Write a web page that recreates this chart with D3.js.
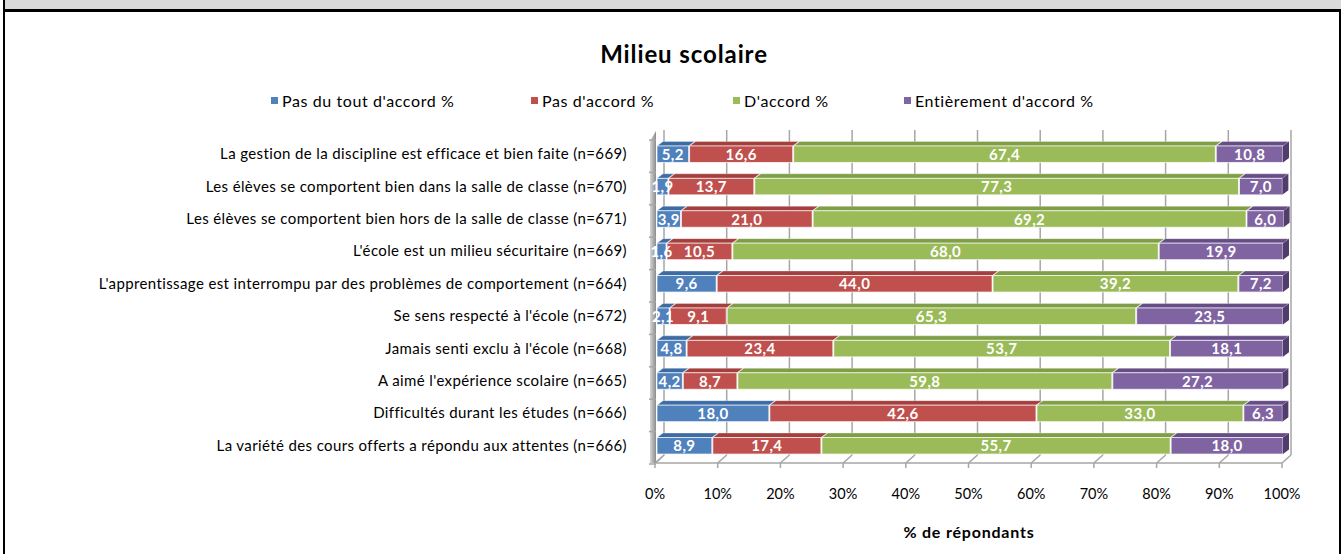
<!DOCTYPE html>
<html><head><meta charset="utf-8">
<script src="https://cdn.jsdelivr.net/npm/d3@7"></script>
<style>body{margin:0;background:#fff;} svg{display:block}</style>
</head><body>
<svg id="chart" width="1341" height="554"></svg>
<script>
const categories = [
  "La gestion de la discipline est efficace et bien faite (n=669)",
  "Les élèves se comportent bien dans la salle de classe (n=670)",
  "Les élèves se comportent bien hors de la salle de classe (n=671)",
  "L'école est un milieu sécuritaire (n=669)",
  "L'apprentissage est interrompu par des problèmes de comportement (n=664)",
  "Se sens respecté à l'école (n=672)",
  "Jamais senti exclu à l'école (n=668)",
  "A aimé l'expérience scolaire (n=665)",
  "Difficultés durant les études (n=666)",
  "La variété des cours offerts a répondu aux attentes (n=666)"
];
const seriesNames = ["Pas du tout d'accord %", "Pas d'accord %", "D'accord %", "Entièrement d'accord %"];
const pasDuTout   = [5.2, 1.9, 3.9, 1.6, 9.6, 2.1, 4.8, 4.2, 18.0, 8.9];
const pasDaccord  = [16.6, 13.7, 21.0, 10.5, 44.0, 9.1, 23.4, 8.7, 42.6, 17.4];
const daccord     = [67.4, 77.3, 69.2, 68.0, 39.2, 65.3, 53.7, 59.8, 33.0, 55.7];
const entierement = [10.8, 7.0, 6.0, 19.9, 7.2, 23.5, 18.1, 27.2, 6.3, 18.0];
const tickValues = [0, 10, 20, 30, 40, 50, 60, 70, 80, 90, 100];
const chartTitle = "Milieu scolaire";
const axisTitle = "% de répondants";

const frontColors = ["#4f81bd", "#c0504d", "#9bbb59", "#8064a2"];
const topColors   = ["#3d6ba3", "#a33f3c", "#7f9e45", "#654d85"];
const sideColors  = ["#335a8a", "#8a3532", "#6a853a", "#503d6b"];

const FONT = "Lato, 'Liberation Sans', sans-serif";
const svg = d3.select("#chart");

// frame
svg.append("rect").attr("x", 5).attr("y", 0).attr("width", 1336).attr("height", 9).attr("fill", "#d9d9d9");
svg.append("rect").attr("x", 3).attr("y", 9).attr("width", 1338).attr("height", 3).attr("fill", "#000");
svg.append("rect").attr("x", 3).attr("y", 0).attr("width", 2).attr("height", 554).attr("fill", "#000");
svg.append("rect").attr("x", 1339).attr("y", 9).attr("width", 2).attr("height", 545).attr("fill", "#000");

const table = categories.map((c, i) => ({
  cat: c, s0: pasDuTout[i], s1: pasDaccord[i], s2: daccord[i], s3: entierement[i]
}));
const keys = ["s0", "s1", "s2", "s3"];
const stacked = d3.stack().keys(keys)(table);

const x = d3.scaleLinear().domain([0, 100]).range([655, 1282]);
const y = d3.scaleBand().domain(categories).range([138, 462]).paddingInner(0.49).paddingOuter(0.245);

const WDX = 9, WDY = -8;     // wall depth
const BDX = 6, BDY = -4.5;   // bar depth
const floorY = 463, topY = 138;

// left wall
const defs = svg.append("defs");
const g1 = defs.append("linearGradient").attr("id", "wallg").attr("x1", 0).attr("x2", 1).attr("y1", 0).attr("y2", 0);
g1.append("stop").attr("offset", 0).attr("stop-color", "#d6d6d6");
g1.append("stop").attr("offset", 1).attr("stop-color", "#8c8c8c");
svg.append("polygon")
  .attr("points", [[650, topY + 3], [656, topY - 7], [656, floorY], [650, floorY]].map(p => p.join(",")).join(" "))
  .attr("fill", "url(#wallg)");
svg.append("polygon")
  .attr("points", [[655, floorY], [655 + WDX, floorY + WDY], [655 + WDX + 1, floorY + WDY], [657, floorY]].map(p => p.join(",")).join(" "))
  .attr("fill", "#b0b0b0");

// back gridlines
const grid = svg.append("g").attr("stroke", "#a6a6a6").attr("stroke-width", 1.5).attr("fill", "none");
grid.selectAll("line.back").data(tickValues).join("line")
  .attr("x1", d => x(d) + WDX).attr("x2", d => x(d) + WDX)
  .attr("y1", topY + WDY).attr("y2", floorY + WDY);
// floor diagonals
grid.selectAll("line.floor").data(tickValues).join("line")
  .attr("x1", d => x(d)).attr("x2", d => x(d) + WDX)
  .attr("y1", floorY).attr("y2", floorY + WDY);
// front axis line + ticks
grid.append("line").attr("x1", x(0)).attr("x2", x(100)).attr("y1", floorY).attr("y2", floorY);
grid.selectAll("line.tick").data(tickValues).join("line")
  .attr("x1", d => x(d)).attr("x2", d => x(d))
  .attr("y1", floorY).attr("y2", floorY + 5);
// category ticks
const bounds = d3.range(categories.length + 1).map(i => 138 + i * y.step());
grid.selectAll("line.ctick").data(bounds).join("line")
  .attr("x1", 649).attr("x2", 656).attr("y1", d => d + 2).attr("y2", d => d + 2);

// bars
const bars = svg.append("g");
categories.forEach((c, i) => {
  const y0 = y(c), h = y.bandwidth();
  stacked.forEach((layer, k) => {
    const d = layer[i];
    const xa = x(d[0]) + 2, xb = x(d[1]) + 1;
    bars.append("polygon")
      .attr("points", [[xa, y0], [xa + BDX, y0 + BDY], [xb + BDX, y0 + BDY], [xb, y0]].map(p => p.join(",")).join(" "))
      .attr("fill", topColors[k]).attr("stroke", "rgba(255,255,255,0.5)").attr("stroke-width", 0.6);
    bars.append("rect").attr("x", xa).attr("y", y0).attr("width", Math.max(0, xb - xa)).attr("height", h)
      .attr("fill", frontColors[k]).attr("stroke", "rgba(255,255,255,0.7)").attr("stroke-width", 1);
    if (k === stacked.length - 1) {
      bars.append("polygon")
        .attr("points", [[xb, y0], [xb + BDX, y0 + BDY], [xb + BDX, y0 + h + BDY], [xb, y0 + h]].map(p => p.join(",")).join(" "))
        .attr("fill", sideColors[k]);
    }
  });
});
// labels
const labels = svg.append("g").attr("font-family", FONT).attr("font-weight", "bold").attr("font-size", 15)
  .attr("letter-spacing", 0.4).attr("fill", "#fff").attr("text-anchor", "middle");
categories.forEach((c, i) => {
  stacked.forEach((layer, k) => {
    const d = layer[i];
    const v = d.data[keys[k]];
    labels.append("text")
      .attr("x", (x(d[0]) + x(d[1])) / 2 + 1.5)
      .attr("y", y(c) + y.bandwidth() / 2 + 5.5)
      .text(v.toFixed(1).replace(".", ","));
  });
});

// category labels
svg.append("g").attr("font-family", FONT).attr("font-size", 15).attr("letter-spacing", 0.38)
  .attr("fill", "#000").attr("text-anchor", "end")
  .selectAll("text").data(categories).join("text")
  .attr("x", 627).attr("y", d => y(d) + y.bandwidth() / 2 + 5).text(d => d);

// tick labels
svg.append("g").attr("font-family", FONT).attr("font-size", 14.5).attr("fill", "#000").attr("text-anchor", "middle")
  .selectAll("text").data(tickValues).join("text")
  .attr("x", d => x(d)).attr("y", 499).text(d => d + "%");

// axis title
svg.append("text").attr("x", 969).attr("y", 538).attr("text-anchor", "middle")
  .attr("font-family", FONT).attr("font-weight", "bold").attr("font-size", 16).attr("letter-spacing", 0.8).text(axisTitle);

// title
svg.append("text").attr("x", 684).attr("y", 63).attr("text-anchor", "middle")
  .attr("font-family", FONT).attr("font-weight", "bold").attr("font-size", 24).attr("letter-spacing", 0.9).text(chartTitle);

// legend
const legendX = [271, 531, 733, 904];
const lg = svg.append("g").attr("font-family", FONT).attr("font-size", 16).attr("letter-spacing", 0.6);
seriesNames.forEach((n, k) => {
  lg.append("rect").attr("x", legendX[k]).attr("y", 97).attr("width", 7).attr("height", 7).attr("fill", frontColors[k]);
  lg.append("text").attr("x", legendX[k] + 11).attr("y", 106.5).text(n);
});
</script>
</body></html>
